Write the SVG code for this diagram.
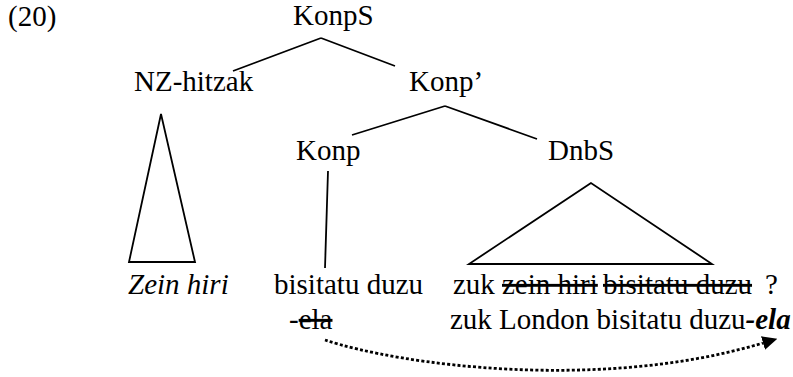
<svg xmlns="http://www.w3.org/2000/svg" width="793" height="377" viewBox="0 0 793 377">
<defs>
<marker id="ah" viewBox="0 0 15 14" refX="0" refY="7" markerWidth="15" markerHeight="14" markerUnits="userSpaceOnUse" orient="auto">
<path d="M0,0 L15,7 L0,14 z" fill="#000"/>
</marker>
</defs>
<text id="exnum" x="8" y="26" font-family="Liberation Serif" font-size="29">(20)</text>
<g id="KonpS"><text x="293" y="25" font-family="Liberation Serif" font-size="29">KonpS</text></g>
<g id="NZ-hitzak"><text x="134" y="91" font-family="Liberation Serif" font-size="29">NZ-hitzak</text></g>
<g id="Konp-bar"><text x="409" y="91" font-family="Liberation Serif" font-size="29">Konp&#8217;</text></g>
<g id="Konp"><text x="296" y="160" font-family="Liberation Serif" font-size="29">Konp</text></g>
<g id="DnbS"><text x="548" y="160" font-family="Liberation Serif" font-size="29">DnbS</text></g>
<g id="zein-hiri"><text x="128" y="294" font-family="Liberation Serif" font-size="29" font-style="italic">Zein hiri</text></g>
<g id="bisitatu"><text x="274" y="294" font-family="Liberation Serif" font-size="29">bisitatu duzu</text><text x="289" y="329" font-family="Liberation Serif" font-size="29">-<tspan text-decoration="line-through">ela</tspan></text></g>
<g id="zuk"><text x="453" y="294" font-family="Liberation Serif" font-size="29">zuk <tspan text-decoration="line-through" x="502">zein hiri</tspan><tspan text-decoration="line-through" x="603">bisitatu duzu</tspan><tspan x="765">?</tspan></text><text x="450" y="329" font-family="Liberation Serif" font-size="29">zuk London bisitatu duzu<tspan font-style="italic" font-weight="bold">-ela</tspan></text></g>
<g id="connectors" stroke="#000" stroke-width="1.8" fill="none">
<path d="M321,38 L233,71 M321,38 L395,66"/>
<path d="M445,106 L352,135 M445,106 L537,139"/>
<path d="M161,114 L129,262 L195,262 Z"/>
<path d="M328,171 L325,268"/>
<path d="M591,183 L469,264 L712,264 Z"/>
<path stroke-width="2.8" stroke-dasharray="3 2.2" d="M325,340 C400,365 600,392 763,343" marker-end="url(#ah)"/>
</g>
</svg>
